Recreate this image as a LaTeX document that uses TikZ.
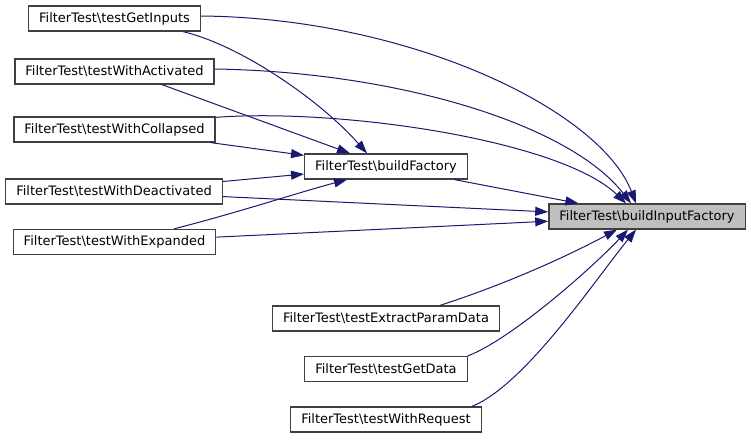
\documentclass[tikz,border=0pt]{standalone}
\usepackage{fontspec}
\setmainfont{DejaVu Sans}
\usetikzlibrary{arrows.meta}
\definecolor{edgeblue}{HTML}{191970}
\definecolor{boxline}{HTML}{404040}
\definecolor{boxgray}{HTML}{BFBFBF}
\newcommand{\ft}{FilterTest\textbackslash}
\begin{document}
\begin{tikzpicture}[x=1pt,y=-1pt,
  fn/.style={draw=boxline,line width=1.3pt,fill=white,inner xsep=10.5pt,inner ysep=0pt,minimum height=25pt,font=\fontsize{13}{15}\selectfont},
  call/.style={draw=edgeblue,line width=1pt,-{Triangle[length=13pt,width=9pt]}}]
\useasboundingbox (0,0) rectangle (751,439);
\node[fn] (gi) at (114.5,18.5) {\ft testGetInputs};
\node[fn] (act) at (114.5,71.5) {\ft testWithActivated};
\node[fn] (col) at (114.5,129.5) {\ft testWithCollapsed};
\node[fn] (deact) at (114,191.5) {\ft testWithDeactivated};
\node[fn] (exp) at (114.5,242) {\ft testWithExpanded};
\node[fn] (bf) at (386,166.5) {\ft buildFactory};
\node[fn,fill=boxgray] (bif) at (647,216.5) {\ft buildInputFactory};
\node[fn] (epd) at (386,318.5) {\ft testExtractParamData};
\node[fn] (gd) at (386,369) {\ft testGetData};
\node[fn] (req) at (386,419.5) {\ft testWithRequest};
\draw[call] ([yshift=2.5pt]gi.east) .. controls (410,18) and (600,110) .. ([xshift=-11pt]bif.north);
\draw[call] ([yshift=2.5pt]act.east) .. controls (400,72) and (570,125) .. ([xshift=-16pt]bif.north);
\draw[call] ([yshift=-1pt]col.north east) .. controls (340,108) and (560,140) .. ([xshift=-21pt]bif.north);
\draw[call] ([xshift=68.5pt]gi.south) .. controls (240,45) and (320,100) .. ([xshift=-19pt]bf.north);
\draw[call] ([xshift=47.5pt]act.south) -- ([xshift=-36pt]bf.north);
\draw[call] (col) -- (bf);
\draw[call] (deact) -- (bf);
\draw[call] ([xshift=59.5pt]exp.north) .. controls (240,212) and (300,192) .. ([xshift=-39pt]bf.south);
\draw[call] (bf) -- (bif);
\draw[call] (deact) -- (bif);
\draw[call] (exp) -- (bif);
\draw[call] ([xshift=54pt]epd.north) .. controls (500,286) and (560,260) .. ([xshift=-30pt]bif.south);
\draw[call] (gd.north east) .. controls (510,340) and (590,270) .. ([xshift=-19pt]bif.south);
\draw[call] ([xshift=86pt]req.north) .. controls (525,385) and (595,280) .. ([xshift=-11pt]bif.south);
\end{tikzpicture}
\end{document}
